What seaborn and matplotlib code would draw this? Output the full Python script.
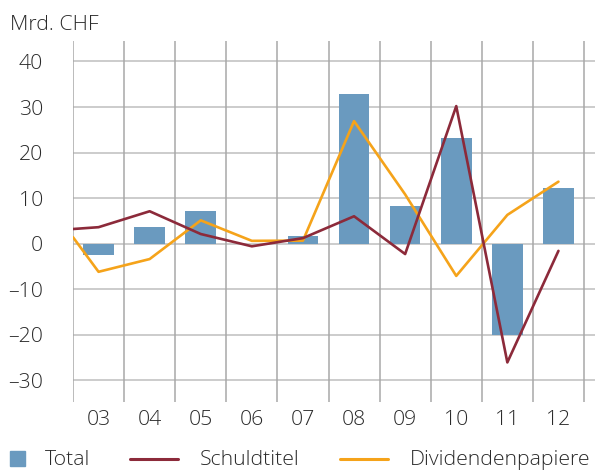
import numpy as np
import pandas as pd
import matplotlib
matplotlib.use("Agg")
import matplotlib.pyplot as plt
from matplotlib.lines import Line2D
from matplotlib.patches import Rectangle
import seaborn as sns

# Data (Mrd. CHF)
years = ["03", "04", "05", "06", "07", "08", "09", "10", "11", "12"]
total = [-2.4, 3.6, 7.1, 0.0, 1.6, 32.8, 8.2, 23.1, -20.1, 12.2]
# line series start half a period before the first year
line_x = [-0.5, 0, 1, 2, 3, 4, 5, 6, 7, 8, 9]
schuldtitel = [3.2, 3.6, 7.1, 2.1, -0.6, 1.2, 6.0, -2.3, 30.2, -26.1, -1.6]
dividenden = [1.4, -6.2, -3.4, 5.1, 0.6, 0.65, 26.9, 10.8, -7.1, 6.3, 13.6]
y_ticks = [40, 30, 20, 10, 0, -10, -20, -30]

sns.set_theme(style="white")
plt.rcParams["font.family"] = ["Open Sans", "DejaVu Sans"]
plt.rcParams["font.weight"] = "light"

C_BAR = "#6a9abf"
C_RED = "#8c2a3a"
C_ORANGE = "#f5a31a"
C_TEXT = "#2a2a2a"
C_HGRID = "#c4c4c4"
C_VGRID = "#a8a8a8"
FS = 15.3

W, H = 595, 470
fig = plt.figure(figsize=(W / 100, H / 100), dpi=100)
ax = fig.add_axes([73 / W, (H - 402) / H, (595 - 73) / W, (402 - 41) / H])

df = pd.DataFrame({"year": years, "total": total})
sns.barplot(data=df, x="year", y="total", color=C_BAR, saturation=1,
            width=0.6, linewidth=0, ax=ax, zorder=3)

sns.lineplot(x=line_x, y=schuldtitel, color=C_RED, linewidth=1.9, ax=ax,
             zorder=5, estimator=None, sort=False)
sns.lineplot(x=line_x, y=dividenden, color=C_ORANGE, linewidth=1.9, ax=ax,
             zorder=4, estimator=None, sort=False)

ax.set_xlim(-0.5, 9.5 + 11 / 51.1)
ax.set_ylim(-34.8, 44.5)

# grid
for v in y_ticks:
    ax.axhline(v, color=C_HGRID, linewidth=1.2, zorder=1)
for b in np.arange(-0.5, 10.0, 1.0):
    ax.axvline(b, color=C_VGRID, linewidth=1.1, zorder=1)

for s in ax.spines.values():
    s.set_visible(False)

ax.set_yticks(y_ticks)
ax.set_yticklabels([str(v).replace("-", "\u2013") for v in y_ticks])
ax.tick_params(axis="y", length=14.4, width=1.2, color=C_HGRID, pad=7,
               labelsize=FS, labelcolor=C_TEXT)
ax.set_xticks(range(len(years)))
ax.set_xticklabels(years)
ax.tick_params(axis="x", length=0, pad=5.5, labelsize=FS, labelcolor=C_TEXT)
ax.set_xlabel("")
ax.set_ylabel("")

fig.text(10 / W, 1 - 25 / H, "Mrd. CHF", fontsize=FS, color=C_TEXT,
         va="center", ha="left")

# legend
ly = 1 - 460 / H
fig.patches.append(Rectangle((10 / W, 1 - 466 / H), 15 / W, 15 / H,
                             transform=fig.transFigure, color=C_BAR))
fig.text(45 / W, ly, "Total", fontsize=FS, color=C_TEXT, va="center")
fig.lines.append(Line2D([130 / W, 178 / W], [1 - 459 / H] * 2,
                        transform=fig.transFigure, color=C_RED, linewidth=2.2))
fig.text(200 / W, ly, "Schuldtitel", fontsize=FS, color=C_TEXT, va="center")
fig.lines.append(Line2D([340 / W, 388 / W], [1 - 459 / H] * 2,
                        transform=fig.transFigure, color=C_ORANGE, linewidth=2.2))
fig.text(410 / W, ly, "Dividendenpapiere", fontsize=FS, color=C_TEXT, va="center")

fig.savefig("out.png", dpi=100)
